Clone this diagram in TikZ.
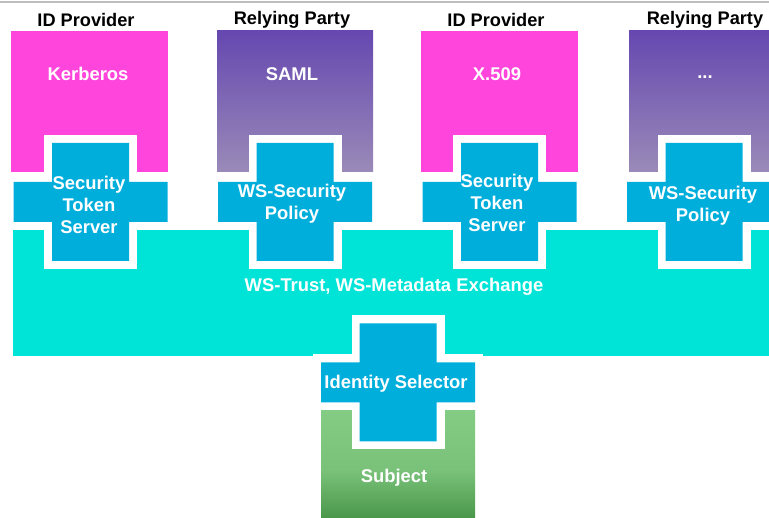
\documentclass[tikz,border=0pt]{standalone}
\usepackage{fontspec}
\setmainfont{Liberation Sans}
\definecolor{magbox}{HTML}{FF45DB}
\definecolor{purtop}{HTML}{6648B0}
\definecolor{purbot}{HTML}{9A8AB8}
\definecolor{crossblue}{HTML}{00AEDC}
\definecolor{tealband}{HTML}{00E4D8}
\definecolor{greentop}{HTML}{84CB84}
\definecolor{greenbot}{HTML}{3E8C3E}
\definecolor{rulegray}{HTML}{BDBDBD}
\tikzset{
  lbl/.style={inner sep=0pt, text=white, font=\bfseries\fontsize{18.4}{22}\selectfont, align=center},
  head/.style={inner sep=0pt, text=black, font=\bfseries\fontsize{18.2}{22}\selectfont},
  xcross/.pic={
    \path[draw=white, line width=16pt, line join=miter, fill=crossblue]
      (-38.5,-59) -- (38.5,-59) -- (38.5,-20) -- (77,-20) -- (77,20) -- (38.5,20)
      -- (38.5,59) -- (-38.5,59) -- (-38.5,20) -- (-77,20) -- (-77,-20) -- (-38.5,-20) -- cycle;
    \fill[crossblue]
      (-38.5,-59) -- (38.5,-59) -- (38.5,-20) -- (77,-20) -- (77,20) -- (38.5,20)
      -- (38.5,59) -- (-38.5,59) -- (-38.5,20) -- (-77,20) -- (-77,-20) -- (-38.5,-20) -- cycle;
  }
}
\begin{document}
\begin{tikzpicture}[x=1pt,y=-1pt]
\useasboundingbox (0,0) rectangle (769,518);
\fill[white] (0,0) rectangle (769,518);
\draw[rulegray, line width=1.5pt] (0,2) -- (769,2);
% top boxes
\fill[magbox] (11,31) rectangle (168,172);
\shade[top color=purtop, bottom color=purbot] (217,31) rectangle (373,172);
\fill[magbox] (421,31) rectangle (578,172);
\shade[top color=purtop, bottom color=purbot] (629,31) rectangle (786,172);
% band
\fill[tealband] (13,230.5) rectangle (780,356);
% subject
\shade[top color=greentop, bottom color=greenbot, middle color=greentop!85!greenbot] (321,411) rectangle (475,530);
% crosses
\pic at (90.5,202) {xcross};
\pic at (295,202) {xcross};
\pic at (499.5,202) {xcross};
\pic at (704,202) {xcross};
\pic at (398,382.5) {xcross};
% headers
\node[head] (h1) at (86,20) {ID Provider};
\node[head] (h2) at (292,20) {Relying Party};
\node[head] (h3) at (496,20) {ID Provider};
\node[head] (h4) at (705,20) {Relying Party};
% box labels
\node[lbl] (kerb) at (88,74) {Kerberos};
\node[lbl] (saml) at (292,74) {SAML};
\node[lbl] (x509) at (497,74) {X.509};
\node[lbl] (dots) at (705,77) {...};
% cross labels
\node[lbl] (sts1) at (89,205) {Security\\Token\\Server};
\node[lbl] (wsp1) at (292,204) {WS-Security\\Policy};
\node[lbl] (sts2) at (497,203) {Security\\Token\\Server};
\node[lbl] (wsp2) at (703,206) {WS-Security\\Policy};
\node[lbl] (trust) at (394,287) {WS-Trust, WS-Metadata Exchange};
\node[lbl] (idsel) at (396,384) {Identity Selector};
\node[lbl] (subj) at (394,478) {Subject};
\end{tikzpicture}
\end{document}
